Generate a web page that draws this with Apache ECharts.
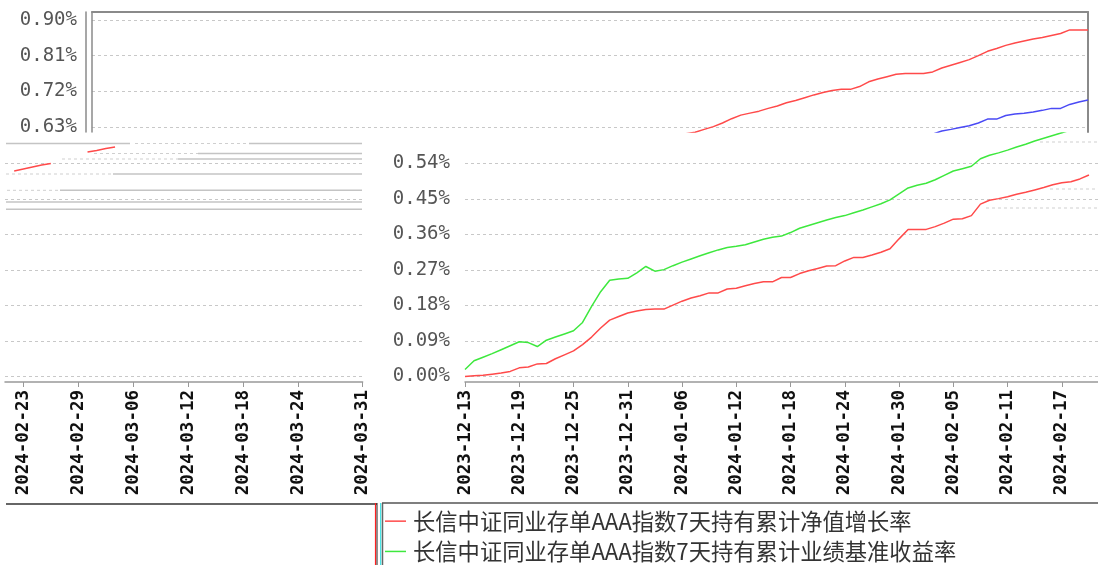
<!DOCTYPE html>
<html>
<head>
<meta charset="utf-8">
<script src="https://cdn.jsdelivr.net/npm/echarts@6/dist/echarts.min.js"></script>
<style>
html,body{margin:0;padding:0;background:#fff;}
#chart{width:1098px;height:565px;}
</style>
</head>
<body>
<div id="chart"></div>
<script>
// ---------------- DATA ----------------
const seriesNames = ['长信中证同业存单AAA指数7天持有累计净值增长率', '长信中证同业存单AAA指数7天持有累计业绩基准收益率'];

// main panel: 2023-12-13 .. 2024-02-21 (daily)
const mainStart = '2023-12-13', mainEnd = '2024-02-21';
const mainNav = [0.000,0.002,0.003,0.006,0.009,0.013,0.022,0.024,0.032,0.033,
  0.045,0.055,0.065,0.081,0.100,0.123,0.143,0.152,0.161,0.166,
  0.170,0.171,0.171,0.181,0.191,0.199,0.205,0.212,0.212,0.222,
  0.224,0.230,0.236,0.240,0.240,0.251,0.251,0.261,0.268,0.274,
  0.280,0.281,0.293,0.302,0.302,0.308,0.315,0.324,0.349,0.373,
  0.373,0.373,0.380,0.389,0.399,0.400,0.408,0.437,0.447,0.451,
  0.456,0.462,0.467,0.473,0.479,0.486,0.491,0.494,0.501,0.511,null];
const mainBench = [0.018,0.040,0.049,0.058,0.068,0.078,0.088,0.086,0.076,0.092,
  0.100,0.108,0.116,0.137,0.178,0.215,0.244,0.247,0.249,0.263,
  0.279,0.267,0.271,0.281,0.290,0.298,0.306,0.314,0.321,0.327,
  0.330,0.334,0.341,0.348,0.353,0.356,0.365,0.376,0.383,0.390,
  0.397,0.403,0.408,0.415,0.422,0.430,0.438,0.448,0.463,0.478,
  0.485,0.490,0.499,0.510,0.521,0.527,0.533,0.552,0.561,0.567,
  0.574,0.582,0.589,0.597,0.604,0.611,0.618,0.625,0.632,0.639,0.646];

// left panel: 2024-02-21 .. 2024-03-31 (daily)
const leftStart = '2024-02-21', leftEnd = '2024-03-31';
const leftNav = [null,0.521,0.526,0.531,0.536,0.540,null,null,null,0.569,
  0.573,0.578,0.582,null,null,null,null,null,null,null,
  null,null,null,null,null,null,null,null,null,null,
  null,null,null,null,null,null,null,null,null,null];

// top panel: 2023-12-13 .. 2024-03-31 (daily); values start at index 65 / 92
const topStart = '2023-12-13', topEnd = '2024-03-31';
const topRedOffset = 65;
const topRed = [0.613,0.617,0.624,0.631,0.640,0.651,0.660,0.665,0.670,0.677,
  0.683,0.691,0.697,0.704,0.711,0.717,0.722,0.725,0.725,0.732,
  0.744,0.751,0.757,0.763,0.765,0.765,0.765,0.769,0.779,0.786,
  0.793,0.800,0.810,0.821,0.828,0.836,0.842,0.847,0.852,0.856,
  0.861,0.866,0.875,0.875,0.875];
const topBlueOffset = 92;
const topBlue = [0.612,0.620,0.624,0.629,0.633,0.640,0.650,0.650,0.659,0.663,
  0.665,0.668,0.672,0.677,0.677,0.687,0.693,0.698];

const mainTicks = [0, 0.09, 0.18, 0.27, 0.36, 0.45, 0.54];
const topTicks = [0.63, 0.72, 0.81, 0.90];

// ---------------- HELPERS ----------------
function dateRange(a, b) {
  const out = [];
  let t = Date.parse(a + 'T00:00:00Z');
  const e = Date.parse(b + 'T00:00:00Z');
  while (t <= e) { out.push(new Date(t).toISOString().slice(0, 10)); t += 86400000; }
  return out;
}
function padTo(offset, arr, len) {
  const out = new Array(len).fill(null);
  arr.forEach((v, i) => { out[offset + i] = v; });
  return out;
}
const mainDates = dateRange(mainStart, mainEnd);
const leftDates = dateRange(leftStart, leftEnd);
const topDates = dateRange(topStart, topEnd);

// ---------------- STYLE ----------------
const RED = '#ff4a4a', GREEN = '#3ee83e', BLUE = '#4a4af5';
const monoFont = 'DejaVu Sans Mono';
const pct = v => v.toFixed(2) + '%';
const splitDash = { show: true, lineStyle: { color: '#c8c8c8', type: [3, 3], width: 1 } };
const yLabel = { color: '#555', fontFamily: monoFont, fontSize: 19, margin: 15, formatter: pct };
const xLabel = { rotate: 90, margin: 8, color: '#111', fontFamily: monoFont, fontSize: 17.5, fontWeight: 'bold' };

function leftLabelIdx(i) { return i === 39 || (i >= 2 && i <= 32 && (i - 2) % 6 === 0); }

// decorative glitch segments (screen decoration, not data)
const decorSegments = [
  [143.5, 6, 130, 'solid'], [143.5, 135, 249, 'dash'], [143.5, 249, 362, 'solid'],
  [153.5, 94, 198, 'dash'], [153.5, 198, 362, 'solid'],
  [159, 62, 178, 'dash'], [159, 178, 362, 'solid'],
  [174, 6, 113, 'dash'], [174, 113, 362, 'solid'],
  [190.3, 7, 60, 'dash'], [190.3, 60, 362, 'solid'],
  [202, 6, 362, 'solid'], [209.3, 6, 362, 'solid'],
  [142, 1040, 1098, 'dash'], [189, 1050, 1098, 'dash'], [208, 986, 1098, 'dash']
];
const graphics = decorSegments.map(s => ({
  type: 'line', silent: true,
  shape: { x1: s[1], y1: s[0], x2: s[2], y2: s[0] },
  style: { stroke: s[3] === 'solid' ? '#c4c4c4' : '#cfcfcf', lineWidth: s[3] === 'solid' ? 1.5 : 1, lineDash: s[3] === 'solid' ? null : [3, 3] }
}));
graphics.push(
  { type: 'line', silent: true, shape: { x1: 6, y1: 504, x2: 377, y2: 504 }, style: { stroke: '#333', lineWidth: 1.5 } },
  { type: 'line', silent: true, shape: { x1: 375.5, y1: 503, x2: 375.5, y2: 565 }, style: { stroke: '#ff2020', lineWidth: 1.2 } },
  { type: 'line', silent: true, shape: { x1: 377, y1: 503, x2: 377, y2: 565 }, style: { stroke: '#222', lineWidth: 1 } },
  { type: 'line', silent: true, shape: { x1: 380.7, y1: 503, x2: 380.7, y2: 565 }, style: { stroke: '#20e0e0', lineWidth: 1 } },
  { type: 'line', silent: true, shape: { x1: 382.5, y1: 503, x2: 382.5, y2: 565 }, style: { stroke: '#666', lineWidth: 1.5 } },
  { type: 'line', silent: true, shape: { x1: 382, y1: 503, x2: 1098, y2: 503 }, style: { stroke: '#555', lineWidth: 1.5 } }
);

const mainMin = -0.0139, mainMax = 0.6174;

const option = {
  backgroundColor: '#fff',
  animation: false,
  graphic: graphics,
  legend: {
    data: seriesNames,
    orient: 'vertical',
    left: 385, top: 510,
    padding: 0,
    itemGap: 8,
    itemWidth: 21, itemHeight: 1.5,
    icon: 'rect',
    textStyle: { fontFamily: 'Noto Sans CJK SC', fontSize: 22.3, color: '#333', padding: [0, 0, 0, 2] }
  },
  grid: [
    { left: 92, top: 12, right: 10, height: 120 },          // top panel
    { left: 465, top: 133, right: -5.4, height: 249 },      // main panel
    { left: 5, top: 133, width: 357.6, height: 249 }        // left panel
  ],
  xAxis: [
    { gridIndex: 0, type: 'category', data: topDates, boundaryGap: false, position: 'top',
      axisLine: { show: true, lineStyle: { color: '#8a8a8a', width: 2 } },
      axisTick: { show: false }, axisLabel: { show: false }, splitLine: { show: false } },
    { gridIndex: 1, type: 'category', data: mainDates, boundaryGap: false,
      axisLine: { show: true, onZero: false, lineStyle: { color: '#999', width: 1.5 } },
      axisTick: { show: true, interval: 5, length: 5, lineStyle: { color: '#999' } },
      axisLabel: Object.assign({ interval: 5 }, xLabel),
      splitLine: { show: false } },
    { gridIndex: 2, type: 'category', data: leftDates, boundaryGap: false,
      axisLine: { show: true, onZero: false, lineStyle: { color: '#999', width: 1.5 } },
      axisTick: { show: true, interval: (i) => leftLabelIdx(i), length: 5, lineStyle: { color: '#999' } },
      axisLabel: Object.assign({ interval: (i) => leftLabelIdx(i) }, xLabel),
      splitLine: { show: false } }
  ],
  yAxis: [
    { gridIndex: 0, type: 'value', min: 0.6174, max: 0.9202, position: 'left',
      axisLine: { show: true, lineStyle: { color: '#8a8a8a', width: 1.5 } },
      axisTick: { show: false, customValues: topTicks },
      axisLabel: Object.assign({ customValues: topTicks }, yLabel),
      splitLine: splitDash },
    { gridIndex: 0, type: 'value', min: 0.6174, max: 0.9202, position: 'left', offset: 6,
      axisLine: { show: true, lineStyle: { color: '#8a8a8a', width: 1.5 } },
      axisTick: { show: false }, axisLabel: { show: false }, splitLine: { show: false } },
    { gridIndex: 0, type: 'value', min: 0.6174, max: 0.9202, position: 'right',
      axisLine: { show: true, lineStyle: { color: '#8a8a8a', width: 2 } },
      axisTick: { show: false }, axisLabel: { show: false }, splitLine: { show: false } },
    { gridIndex: 1, type: 'value', min: mainMin, max: mainMax,
      axisLine: { show: false },
      axisTick: { show: false, customValues: mainTicks },
      axisLabel: Object.assign({ customValues: mainTicks }, yLabel),
      splitLine: splitDash },
    { gridIndex: 2, type: 'value', min: mainMin, max: mainMax,
      axisLine: { show: false },
      axisTick: { show: false, customValues: mainTicks },
      axisLabel: { show: false, customValues: mainTicks },
      splitLine: splitDash }
  ],
  series: [
    { name: 'top-red', type: 'line', xAxisIndex: 0, yAxisIndex: 0, data: padTo(topRedOffset, topRed, topDates.length),
      showSymbol: false, lineStyle: { color: RED, width: 1.5 }, itemStyle: { color: RED } },
    { name: 'top-blue', type: 'line', xAxisIndex: 0, yAxisIndex: 0, data: padTo(topBlueOffset, topBlue, topDates.length),
      showSymbol: false, lineStyle: { color: BLUE, width: 1.5 }, itemStyle: { color: BLUE } },
    { name: seriesNames[0], type: 'line', xAxisIndex: 1, yAxisIndex: 3, data: mainNav,
      showSymbol: false, lineStyle: { color: RED, width: 1.5 }, itemStyle: { color: RED } },
    { name: seriesNames[1], type: 'line', xAxisIndex: 1, yAxisIndex: 3, data: mainBench,
      showSymbol: false, lineStyle: { color: GREEN, width: 1.5 }, itemStyle: { color: GREEN } },
    { name: seriesNames[0], type: 'line', xAxisIndex: 2, yAxisIndex: 4, data: leftNav,
      showSymbol: false, lineStyle: { color: RED, width: 1.5 }, itemStyle: { color: RED } }
  ]
};

const chart = echarts.init(document.getElementById('chart'), null, { renderer: 'canvas' });
chart.setOption(option);
</script>
</body>
</html>
